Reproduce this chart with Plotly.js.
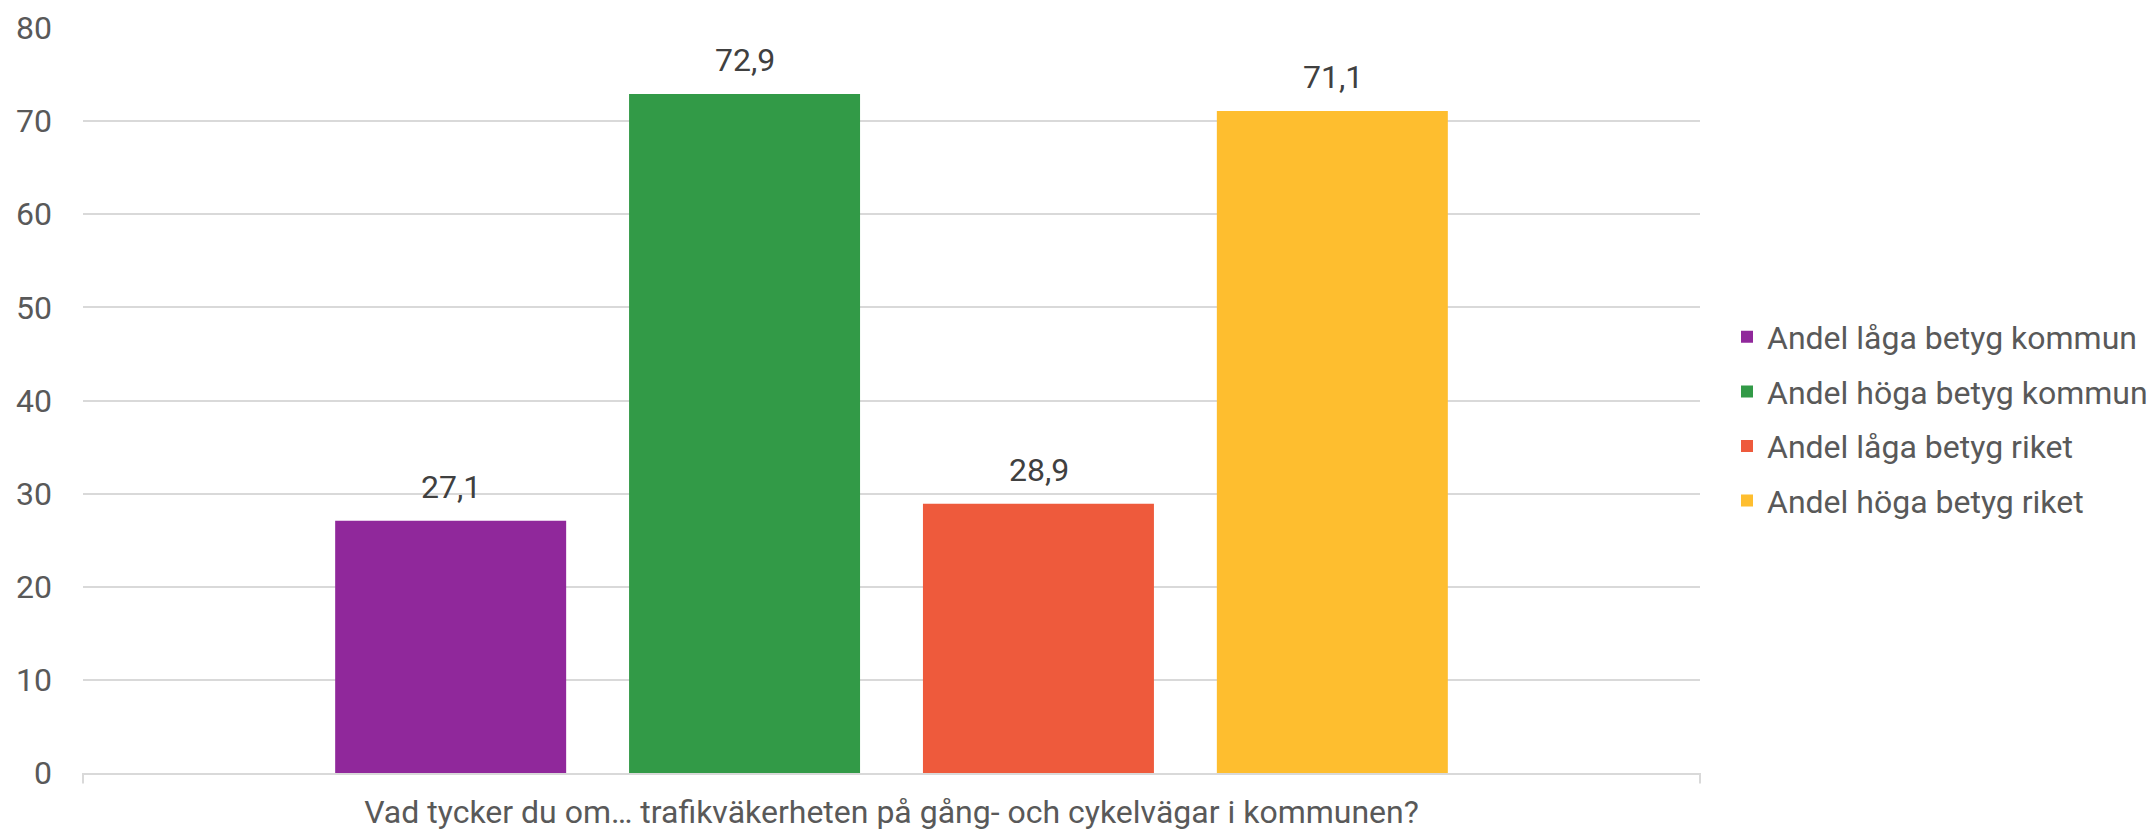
<!DOCTYPE html>
<html>
<head>
<meta charset="utf-8">
<script src="https://cdn.plot.ly/plotly-3.0.1.min.js"></script>
<style>
html,body{margin:0;padding:0;background:#fff;}
#chart{width:2151px;height:831px;}
</style>
</head>
<body>
<div id="chart"></div>
<script>
const categories = ["Vad tycker du om… trafikväkerheten på gång- och cykelvägar i kommunen?"];
const seriesNames = ["Andel låga betyg kommun", "Andel höga betyg kommun", "Andel låga betyg riket", "Andel höga betyg riket"];
const seriesValues = [[27.1], [72.9], [28.9], [71.1]];
const seriesColors = ["#90289B", "#329A47", "#EE5A3C", "#FEBE2F"];
const yTicks = [0, 10, 20, 30, 40, 50, 60, 70, 80];

const FONT = "Roboto, 'Noto Sans', sans-serif";
const FS = 32;

const traces = seriesNames.map((name, i) => ({
  type: "bar",
  name: name,
  x: categories,
  y: seriesValues[i],
  marker: {color: seriesColors[i]},
  legendgroup: "g" + i,
  hoverinfo: "skip"
}));

const nT = seriesNames.length;
const annotations = [];
seriesNames.forEach((name, i) => {
  annotations.push({
    x: categories[0],
    y: seriesValues[i][0],
    xref: "x", yref: "y",
    xshift: (i - (nT - 1) / 2) * 294,
    yshift: 13,
    yanchor: "bottom",
    text: seriesValues[i][0].toFixed(1).replace(".", ","),
    showarrow: false,
    font: {family: FONT, size: FS, color: "#404040"}
  });
});

const layout = {
  width: 2151,
  height: 831,
  margin: {l: 83, r: 451, t: 28, b: 58, autoexpand: false},
  paper_bgcolor: "#fff",
  plot_bgcolor: "#fff",
  barmode: "group",
  bargap: 0.273,
  bargroupgap: 0.214,
  separators: ", ",
  font: {family: FONT, size: FS, color: "#595959"},
  showlegend: true,
  legend: {
    xref: "container", yref: "container",
    x: 1727 / 2151, xanchor: "left",
    y: 1 - 419 / 831, yanchor: "middle",
    font: {family: FONT, size: FS, color: "#595959"},
    tracegroupgap: 10,
    traceorder: "grouped",
    bgcolor: "rgba(0,0,0,0)"
  },
  xaxis: {
    type: "category",
    showgrid: false,
    showline: true,
    linecolor: "#d9d9d9",
    linewidth: 2,
    ticks: "",
    ticklabelstandoff: 10,
    tickfont: {family: FONT, size: FS, color: "#595959"},
    fixedrange: true
  },
  yaxis: {
    range: [0, 80],
    tickvals: yTicks,
    ticktext: yTicks.map(String),
    showgrid: true,
    gridcolor: "#d9d9d9",
    gridwidth: 2,
    zeroline: false,
    showline: false,
    ticks: "",
    ticklabelstandoff: 30,
    tickfont: {family: FONT, size: FS, color: "#595959"},
    fixedrange: true
  },
  shapes: [
    {type: "line", xref: "paper", yref: "paper", x0: 0, x1: 0, y0: 0, y1: -0.014, line: {color: "#d9d9d9", width: 2}},
    {type: "line", xref: "paper", yref: "paper", x0: 1, x1: 1, y0: 0, y1: -0.014, line: {color: "#d9d9d9", width: 2}}
  ],
  annotations: annotations
};

Plotly.newPlot("chart", traces, layout, {displayModeBar: false, staticPlot: true});
</script>
</body>
</html>
